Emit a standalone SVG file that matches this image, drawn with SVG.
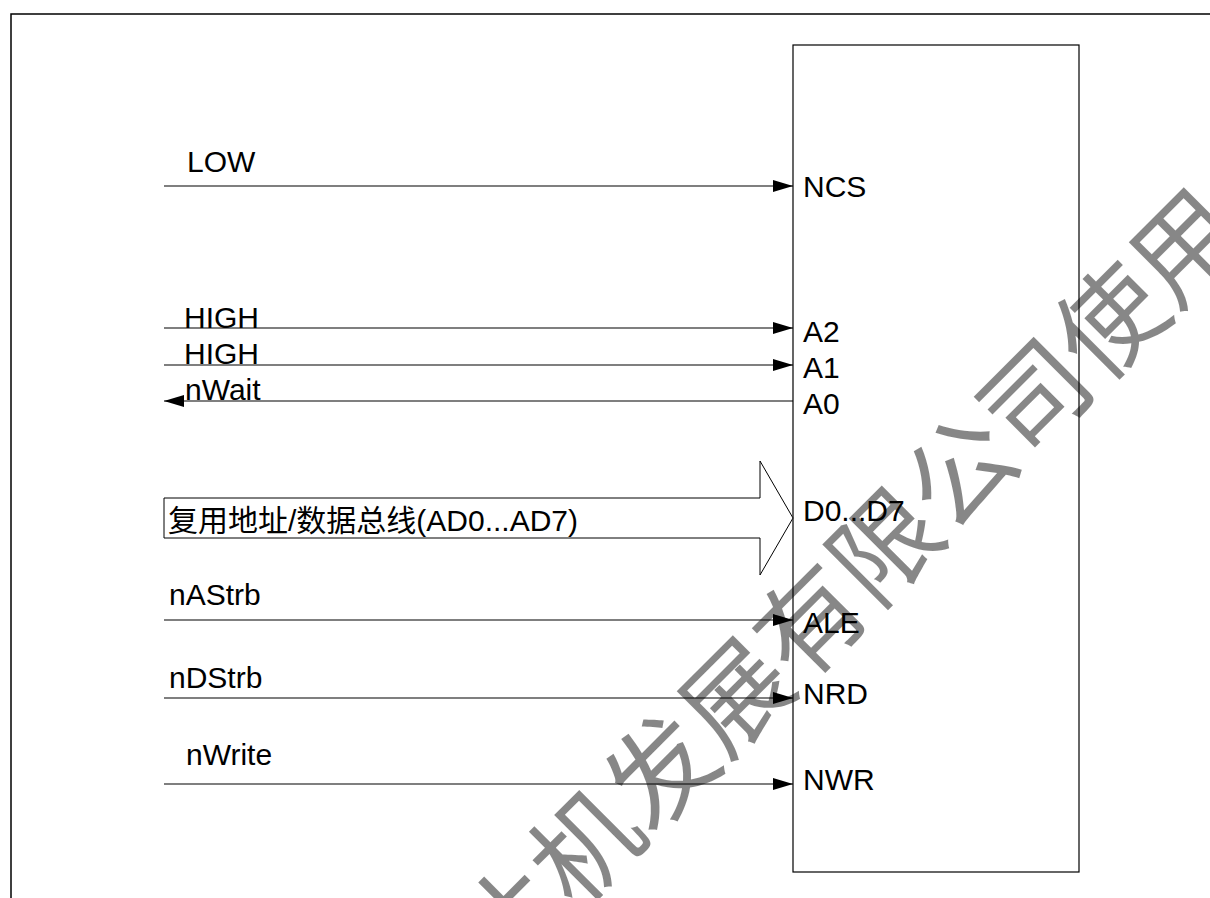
<svg xmlns="http://www.w3.org/2000/svg" width="1210" height="898" viewBox="0 0 1210 898">
<style>
.lbl{font-family:"Liberation Sans",Arial,sans-serif;font-size:30px;fill:#000}
.cn{font-family:"Liberation Sans","Noto Sans CJK SC",sans-serif;font-size:30px;fill:#000}
.wire{stroke:#000;stroke-width:1.2;fill:none}
.wm{font-family:"Noto Sans CJK SC",sans-serif;font-size:106px;fill:#000;fill-opacity:0.47}
</style>
<defs>
<marker id="ah" markerUnits="userSpaceOnUse" markerWidth="22" markerHeight="14" refX="20" refY="7" orient="auto">
<path d="M0,1 L20,7 L0,13 Z" fill="#000"/>
</marker>
</defs>
<rect width="1210" height="898" fill="#fff"/>
<path d="M11,898 V14 H1210" fill="none" stroke="#000" stroke-width="1.5"/>
<g id="chip">
<rect x="793" y="45" width="286" height="827" fill="none" stroke="#000" stroke-width="1.2"/>
<text class="lbl" x="803" y="197">NCS</text>
<text class="lbl" x="803" y="342">A2</text>
<text class="lbl" x="803" y="378">A1</text>
<text class="lbl" x="803" y="414">A0</text>
<text class="lbl" x="803" y="521">D0...D7</text>
<text class="lbl" x="803" y="633">ALE</text>
<text class="lbl" x="803" y="704">NRD</text>
<text class="lbl" x="803" y="790">NWR</text>
</g>
<g id="bus">
<polygon points="164,498 760,498 760,461 793,518 760,575 760,538 164,538" fill="#fff" stroke="#000" stroke-width="1"/>
<text class="cn" x="168" y="531">复用地址/数据总线(AD0...AD7)</text>
</g>
<g id="connectors">
<line class="wire" x1="164" y1="186" x2="793" y2="186" marker-end="url(#ah)"/>
<line class="wire" x1="164" y1="328" x2="793" y2="328" marker-end="url(#ah)"/>
<line class="wire" x1="164" y1="365" x2="793" y2="365" marker-end="url(#ah)"/>
<line class="wire" x1="793" y1="401" x2="164" y2="401" marker-end="url(#ah)"/>
<line class="wire" x1="164" y1="620" x2="793" y2="620" marker-end="url(#ah)"/>
<line class="wire" x1="164" y1="698" x2="793" y2="698" marker-end="url(#ah)"/>
<line class="wire" x1="164" y1="784" x2="793" y2="784" marker-end="url(#ah)"/>
</g>
<g id="signals">
<text class="lbl" x="187" y="172">LOW</text>
<text class="lbl" x="184" y="328">HIGH</text>
<text class="lbl" x="184" y="364">HIGH</text>
<text class="lbl" x="185" y="400">nWait</text>
<text class="lbl" x="169" y="605">nAStrb</text>
<text class="lbl" x="169" y="688">nDStrb</text>
<text class="lbl" x="186" y="765">nWrite</text>
</g>
<g id="watermark">
<text class="wm" transform="translate(847,583) rotate(-45)" x="0" y="40" text-anchor="middle">片机发展有限公司使用</text>
</g>
</svg>
